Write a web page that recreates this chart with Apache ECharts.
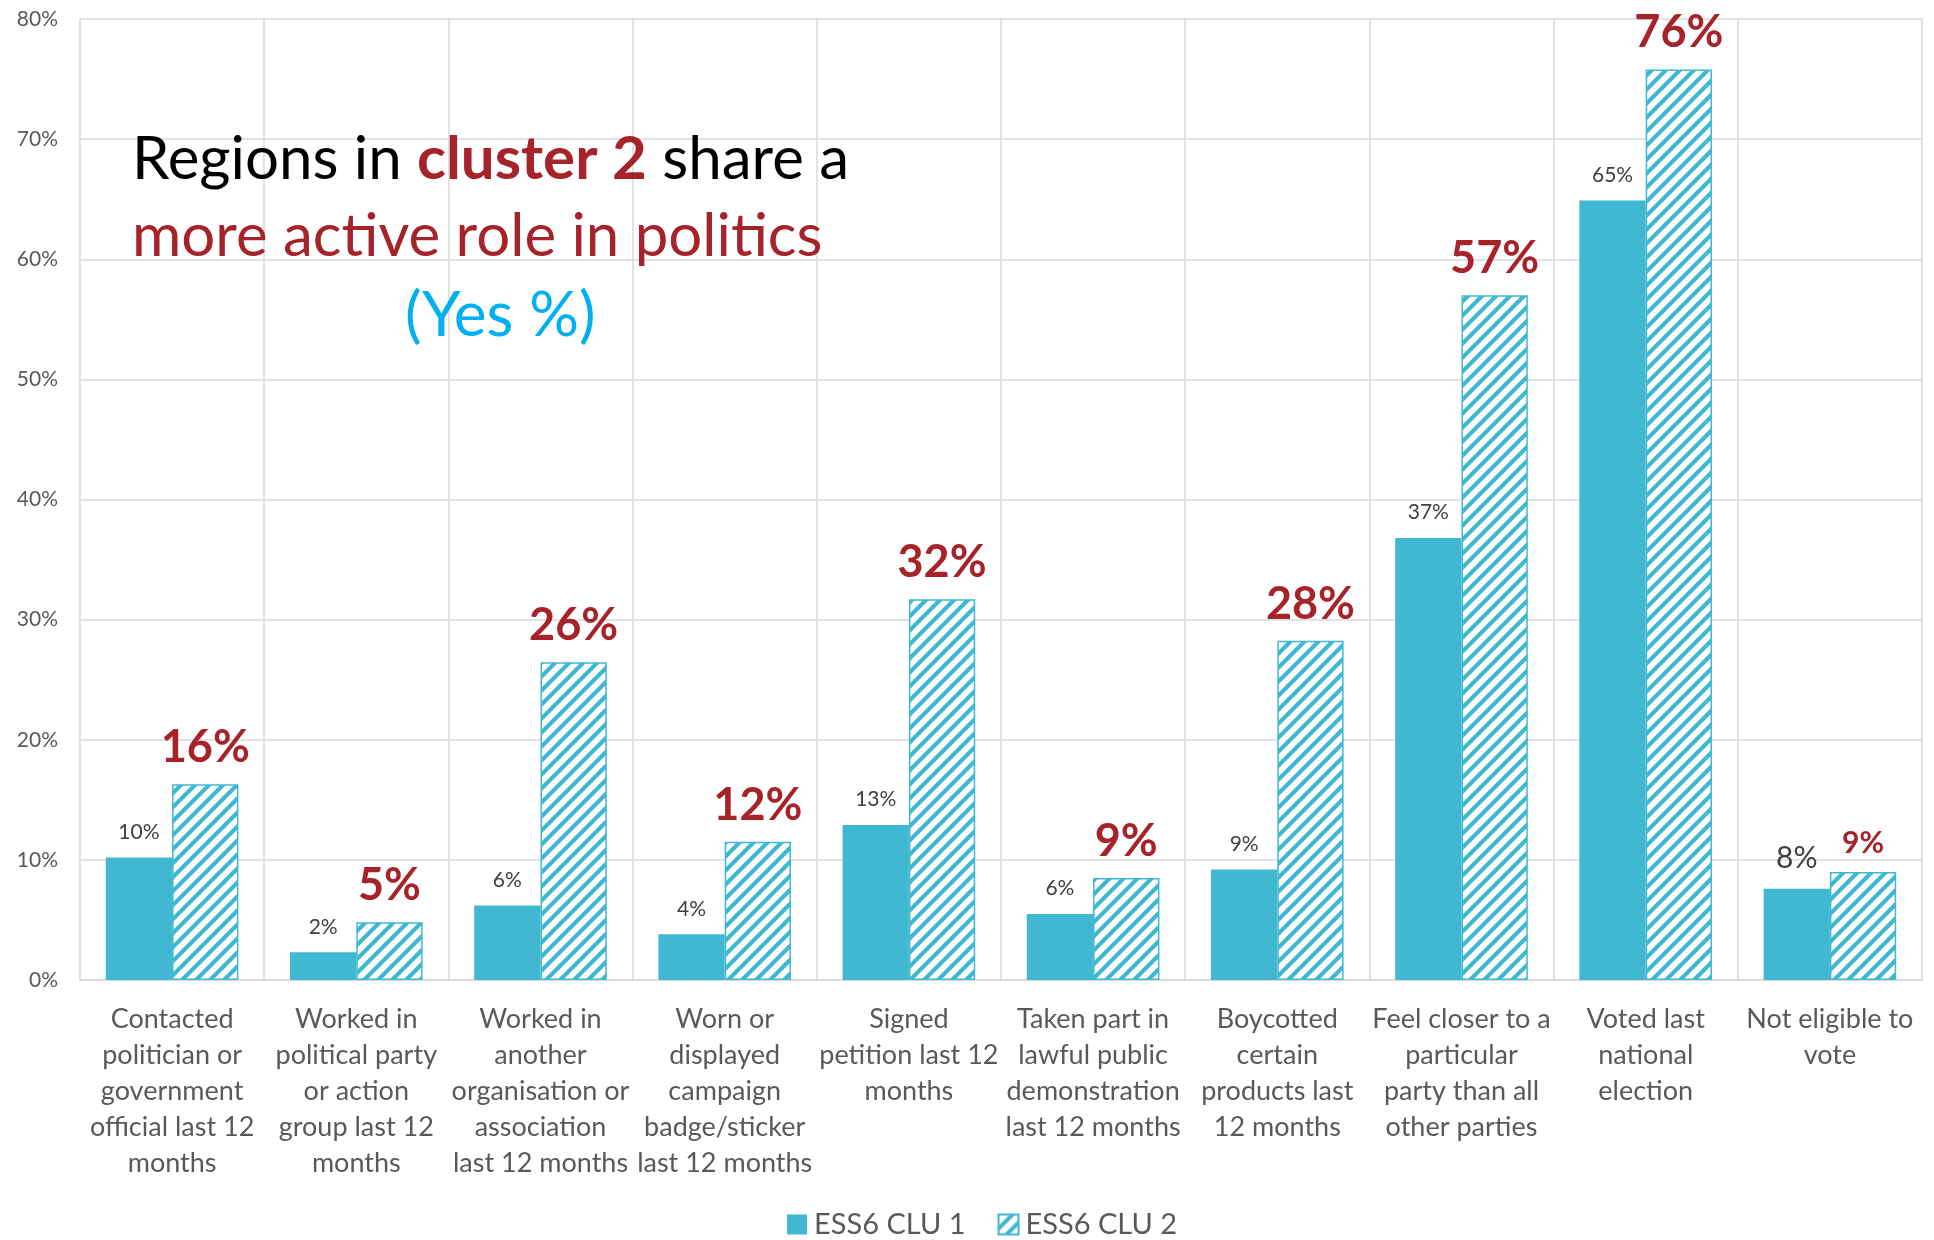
<!DOCTYPE html>
<html>
<head>
<meta charset="utf-8">
<script src="https://cdn.jsdelivr.net/npm/echarts@6/dist/echarts.min.js"></script>
<style>
  html, body { margin: 0; padding: 0; background: #fff; }
  #chart { width: 1934px; height: 1240px; }
</style>
</head>
<body>
<div id="chart"></div>
<script>
// Political participation by cluster (share answering "Yes", %)
const categories = [
  'Contacted\npolitician or\ngovernment\nofficial last 12\nmonths',
  'Worked in\npolitical party\nor action\ngroup last 12\nmonths',
  'Worked in\nanother\norganisation or\nassociation\nlast 12 months',
  'Worn or\ndisplayed\ncampaign\nbadge/sticker\nlast 12 months',
  'Signed\npetition last 12\nmonths',
  'Taken part in\nlawful public\ndemonstration\nlast 12 months',
  'Boycotted\ncertain\nproducts last\n12 months',
  'Feel closer to a\nparticular\nparty than all\nother parties',
  'Voted last\nnational\nelection',
  'Not eligible to\nvote'
];
const seriesNames = ['ESS6 CLU 1', 'ESS6 CLU 2'];
const clu1 = [10.2, 2.3, 6.2, 3.8, 12.9, 5.5, 9.2, 36.8, 64.9, 7.6];
const clu2 = [16.3, 4.8, 26.45, 11.5, 31.7, 8.5, 28.25, 57.0, 75.8, 9.0];
const yTicks = [0, 10, 20, 30, 40, 50, 60, 70, 80];

const CYAN = '#41B8D1';
const RED = '#A6232A';
const GREY = '#595959';
const FONT = 'Lato, "Open Sans", sans-serif';

// diagonal "/" hatch tile for the second series
function hatchTile(color) {
  const s = 14;
  const c = document.createElement('canvas');
  c.width = s; c.height = s;
  const g = c.getContext('2d');
  g.fillStyle = '#ffffff';
  g.fillRect(0, 0, s, s);
  g.strokeStyle = color;
  g.lineWidth = 4.2;
  g.beginPath();
  g.moveTo(-s, s); g.lineTo(s, -s);
  g.moveTo(0, s * 2); g.lineTo(s * 2, 0);
  g.moveTo(0, s); g.lineTo(s, 0);
  g.stroke();
  return c;
}
const hatch = { image: hatchTile(CYAN), repeat: 'repeat' };

const pct = p => Math.round(p.value) + '%';
const last = categories.length - 1;

const data1 = clu1.map((v, i) => i === last
  ? { value: v, label: { fontSize: 30, color: '#404040' } }
  : v);
const data2 = clu2.map((v, i) => i === last
  ? { value: v, label: { fontSize: 30 } }
  : v);

const chart = echarts.init(document.getElementById('chart'), null, { renderer: 'canvas' });
chart.setOption({
  backgroundColor: '#ffffff',
  animation: false,
  textStyle: { fontFamily: FONT },
  title: [
    {
      left: 127,
      top: 116,
      text: '{a|Regions in }{b|cluster 2}{a| share a}\n{c|more active role in politics}',
      textStyle: {
        fontWeight: 'normal',
        rich: {
          a: { fontFamily: FONT, fontSize: 60, color: '#000000', fontWeight: 'normal', lineHeight: 77 },
          b: { fontFamily: FONT, fontSize: 60, color: RED, fontWeight: 'bold', lineHeight: 77 },
          c: { fontFamily: FONT, fontSize: 60, color: RED, fontWeight: 'normal', lineHeight: 77 }
        }
      }
    },
    {
      left: 400,
      top: 280,
      text: '(Yes %)',
      textStyle: { fontFamily: FONT, fontSize: 62, color: '#00B0F0', fontWeight: 'normal', lineHeight: 62 }
    }
  ],
  legend: {
    top: 1205,
    left: 782,
    icon: 'rect',
    itemWidth: 20,
    itemHeight: 20,
    itemGap: 32,
    textStyle: { fontFamily: FONT, fontSize: 29, color: GREY, padding: [0, 0, 0, 2] },
    data: seriesNames
  },
  grid: { left: 80, right: 12, top: 19, bottom: 260 },
  xAxis: {
    type: 'category',
    data: categories,
    axisLine: { show: true, lineStyle: { color: '#D9D9D9', width: 1.5 } },
    axisTick: { show: false },
    splitLine: { show: true, lineStyle: { color: '#D9D9D9', width: 1.5 } },
    axisLabel: {
      interval: 0,
      margin: 21,
      fontFamily: FONT,
      fontSize: 27,
      lineHeight: 36,
      color: GREY,
      align: 'center'
    }
  },
  yAxis: {
    type: 'value',
    min: yTicks[0],
    max: yTicks[yTicks.length - 1],
    interval: yTicks[1] - yTicks[0],
    axisLine: { show: false },
    axisTick: { show: false },
    splitLine: { show: true, lineStyle: { color: '#D9D9D9', width: 1.5 } },
    axisLabel: {
      margin: 22,
      fontFamily: FONT,
      fontSize: 21,
      color: GREY,
      formatter: v => v + '%'
    }
  },
  series: [
    {
      name: seriesNames[0],
      type: 'bar',
      data: data1,
      barGap: '0%',
      barCategoryGap: '28%',
      itemStyle: { color: CYAN },
      label: {
        show: true,
        position: 'top',
        distance: 15,
        fontFamily: FONT,
        fontSize: 21,
        color: '#404040',
        formatter: pct
      }
    },
    {
      name: seriesNames[1],
      type: 'bar',
      data: data2,
      barGap: '0%',
      barCategoryGap: '28%',
      itemStyle: { color: hatch, borderColor: CYAN, borderWidth: 1.5 },
      label: {
        show: true,
        position: 'top',
        distance: 14,
        fontFamily: FONT,
        fontSize: 45,
        fontWeight: 'bold',
        color: RED,
        formatter: pct
      }
    }
  ]
});
</script>
</body>
</html>
